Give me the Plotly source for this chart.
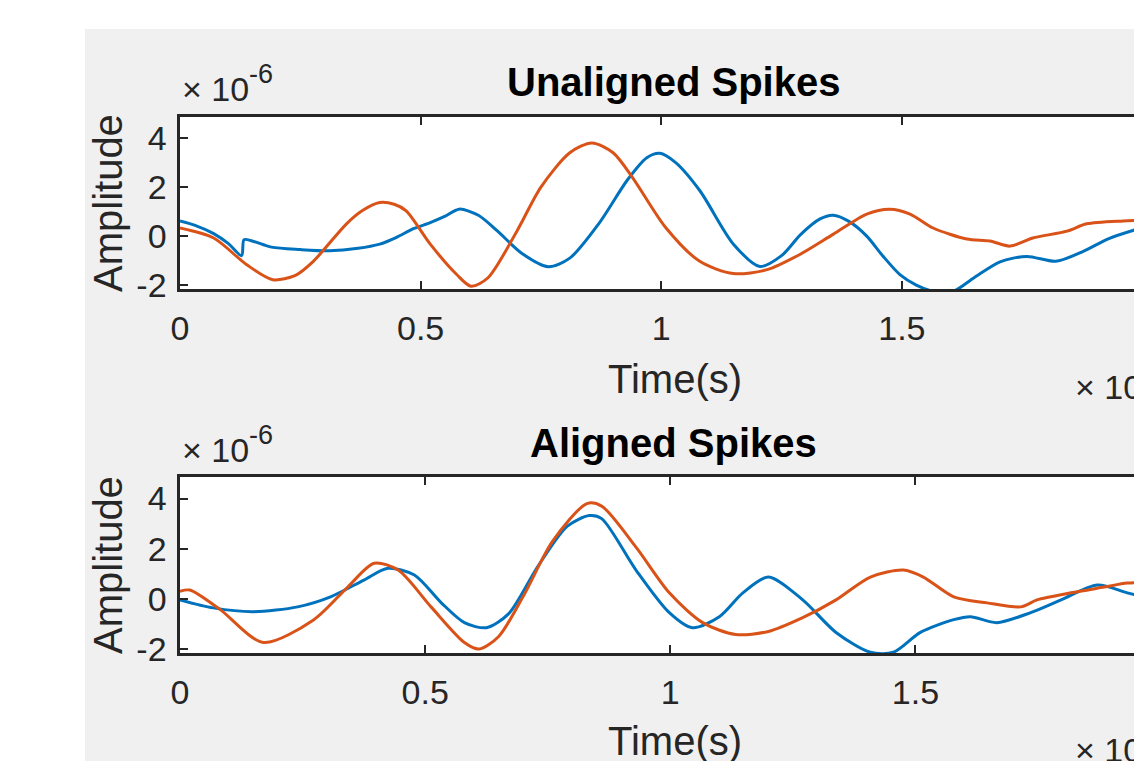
import plotly.graph_objects as go

# ---------------- data (time in units of 1e-3 s, amplitude in units of 1e-6) ----------------
t_unaligned_blue = [0, 0.03, 0.07, 0.10, 0.128, 0.133, 0.15, 0.19, 0.25, 0.31, 0.37, 0.415, 0.45,
                    0.485, 0.52, 0.55, 0.58, 0.62, 0.66, 0.71, 0.765, 0.81, 0.87, 0.93, 0.97, 0.997,
                    1.03, 1.08, 1.15, 1.205, 1.25, 1.29, 1.33, 1.357, 1.39, 1.427, 1.46, 1.496, 1.53,
                    1.565, 1.607, 1.65, 1.704, 1.76, 1.82, 1.877, 1.93, 2.0]
v_unaligned_blue = [0.62, 0.45, 0.1, -0.3, -0.8, -0.15, -0.2, -0.45, -0.55, -0.6, -0.5, -0.33, -0.05,
                    0.3, 0.55, 0.8, 1.1, 0.85, 0.2, -0.7, -1.25, -0.9, 0.5, 2.3, 3.2, 3.38,
                    3.0, 1.86, -0.33, -1.24, -0.8, 0.07, 0.7, 0.85, 0.6, 0.0, -0.8, -1.57, -2.0,
                    -2.25, -2.25, -1.7, -1.05, -0.83, -1.03, -0.62, -0.1, 0.35]

t_unaligned_orange = [0, 0.07, 0.138, 0.193, 0.24, 0.277, 0.346, 0.38, 0.415, 0.445, 0.47, 0.52, 0.575,
                      0.605, 0.64, 0.70, 0.75, 0.81, 0.856, 0.9, 0.94, 1.01, 1.08, 1.15, 1.22, 1.288,
                      1.357, 1.427, 1.475, 1.517, 1.565, 1.635, 1.683, 1.725, 1.772, 1.843, 1.884,
                      1.96, 2.0]
v_unaligned_orange = [0.33, -0.08, -1.16, -1.78, -1.6, -1.03, 0.5, 1.05, 1.37, 1.3, 1.03, -0.33, -1.57,
                      -2.05, -1.7, 0.2, 2.0, 3.4, 3.8, 3.4, 2.4, 0.33, -1.03, -1.53, -1.37, -0.75,
                      0.07, 0.9, 1.1, 0.9, 0.33, -0.12, -0.2, -0.41, -0.08, 0.2, 0.5,
                      0.62, 0.65]

t_aligned_blue = [0, 0.068, 0.15, 0.24, 0.307, 0.375, 0.424, 0.478, 0.533, 0.58, 0.625, 0.67, 0.73,
                  0.79, 0.835, 0.86, 0.93, 0.998, 1.045, 1.1, 1.148, 1.2, 1.27, 1.338, 1.408, 1.455,
                  1.51, 1.578, 1.612, 1.666, 1.735, 1.797, 1.871, 1.932, 1.98]
v_aligned_blue = [-0.04, -0.36, -0.51, -0.32, 0.08, 0.75, 1.22, 0.95, -0.16, -0.95, -1.15, -0.6, 1.3,
                  2.9, 3.32, 3.2, 1.15, -0.55, -1.15, -0.71, 0.24, 0.87, -0.04, -1.34, -2.13, -2.13,
                  -1.34, -0.83, -0.71, -0.95, -0.55, -0.04, 0.55, 0.24, 0.0]

t_aligned_orange = [0, 0.02, 0.082, 0.17, 0.273, 0.342, 0.396, 0.445, 0.512, 0.58, 0.61, 0.65, 0.70,
                    0.76, 0.83, 0.86, 0.93, 0.998, 1.066, 1.133, 1.2, 1.27, 1.338, 1.408, 1.475,
                    1.516, 1.578, 1.646, 1.715, 1.748, 1.817, 1.885, 1.932, 1.98]
v_aligned_orange = [0.3, 0.35, -0.43, -1.74, -0.83, 0.47, 1.42, 1.15, -0.32, -1.74, -2.0, -1.5, 0.1,
                    2.3, 3.8, 3.7, 2.06, 0.24, -0.95, -1.42, -1.3, -0.75, -0.04, 0.87, 1.15,
                    0.87, 0.08, -0.16, -0.32, -0.04, 0.24, 0.47, 0.63, 0.65]

x_tickvals = [0, 0.5, 1, 1.5, 2]
x_ticktext = ["0", "0.5", "1", "1.5", "2"]
y_tickvals = [-2, 0, 2, 4]
y_ticktext = ["-2", "0", "2", "4"]

titles = ["Unaligned Spikes", "Aligned Spikes"]
x_label = "Time(s)"
y_label = "Amplitude"
exp_base = "× 10"
y_exp_power = "-6"
x_exp_power = "-3"

# ---------------- styling ----------------
PAGE = 8                      # default body margin of the html page
W, H = 1142 - PAGE, 761 - PAGE
L = 180 - PAGE
BLUE = "#0072BD"
ORANGE = "#D95319"
AX = "#262626"
FONT = "Liberation Sans, Arial, Helvetica, sans-serif"
TICK_FS = 34
LABEL_FS = 40
SUP_FS = 27
Y_PAD = "<span style='font-size:14px'>\u00a0</span>"


def px_x(p):
    """screen pixel x -> paper x"""
    return (p - PAGE - L) / (W - L)


def px_y(p):
    """screen pixel y -> paper y"""
    return 1 - (p - PAGE) / H


panels = [
    dict(top=117, bottom=289, xrange=[0, 1.999], title_y=82, xlabel_y=379, yexp_y=89, xexp_y=387),
    dict(top=477, bottom=653, xrange=[0, 1.962], title_y=443, xlabel_y=741, yexp_y=450, xexp_y=750),
]

fig = go.Figure()
series = [
    (t_unaligned_blue, v_unaligned_blue, t_unaligned_orange, v_unaligned_orange),
    (t_aligned_blue, v_aligned_blue, t_aligned_orange, v_aligned_orange),
]
for i, (tb, vb, to, vo) in enumerate(series):
    xa = "x" if i == 0 else "x2"
    ya = "y" if i == 0 else "y2"
    fig.add_trace(go.Scatter(x=tb, y=vb, mode="lines",
                             line=dict(color=BLUE, width=3, shape="spline", smoothing=0.8),
                             xaxis=xa, yaxis=ya, showlegend=False))
    fig.add_trace(go.Scatter(x=to, y=vo, mode="lines",
                             line=dict(color=ORANGE, width=3, shape="spline", smoothing=0.8),
                             xaxis=xa, yaxis=ya, showlegend=False))

axis_common = dict(
    showgrid=False, zeroline=False, showline=True, linecolor=AX, linewidth=2.5,
    ticks="inside", ticklen=8, tickwidth=2, tickcolor=AX, automargin=False,
    tickfont=dict(family=FONT, size=TICK_FS, color=AX),
)

layout = dict(
    width=W, height=H,
    margin=dict(l=L, r=0, t=0, b=0, pad=0),
    paper_bgcolor="#F0F0F0",
    plot_bgcolor="white",
    font=dict(family=FONT, color=AX),
    showlegend=False,
)


def text_ann(text, x, y, size, xanchor="center", color=AX, angle=0):
    return dict(text=text, x=x, y=y, xref="paper", yref="paper", xanchor=xanchor, yanchor="middle",
                showarrow=False, textangle=angle, font=dict(size=size, family=FONT, color=color))


annotations = []
for i, p in enumerate(panels):
    sfx = "" if i == 0 else "2"
    layout["xaxis" + sfx] = dict(axis_common, domain=[0, 1], range=p["xrange"], anchor="y" + sfx,
                                 tickvals=x_tickvals, ticktext=x_ticktext, mirror="ticks",
                                 ticklabelstandoff=7)
    layout["yaxis" + sfx] = dict(axis_common, domain=[px_y(p["bottom"]), px_y(p["top"])],
                                 range=[-2.16, 4.86], anchor="x" + sfx, tickvals=y_tickvals,
                                 ticktext=[t + Y_PAD for t in y_ticktext], mirror=False)
    annotations += [
        text_ann("<b>" + titles[i] + "</b>", px_x(673), px_y(p["title_y"]), LABEL_FS, color="black"),
        text_ann(x_label, px_x(675), px_y(p["xlabel_y"]), LABEL_FS),
        text_ann(y_label, px_x(108), (px_y(p["top"]) + px_y(p["bottom"])) / 2, LABEL_FS, angle=-90),
        text_ann(exp_base, px_x(180), px_y(p["yexp_y"]), TICK_FS, xanchor="left"),
        text_ann(y_exp_power, px_x(247), px_y(p["yexp_y"] - 15), SUP_FS, xanchor="left"),
        text_ann(exp_base, px_x(1073), px_y(p["xexp_y"]), TICK_FS, xanchor="left"),
        text_ann(x_exp_power, px_x(1140), px_y(p["xexp_y"] - 15), SUP_FS, xanchor="left"),
    ]
layout["annotations"] = annotations

# white page area around the MATLAB figure window
layout["shapes"] = [
    dict(type="rect", xref="paper", yref="paper", x0=px_x(-10), x1=px_x(85), y0=-0.05, y1=1.05,
         fillcolor="white", line=dict(width=0), layer="below"),
    dict(type="rect", xref="paper", yref="paper", x0=px_x(-10), x1=1.05, y0=px_y(29), y1=1.05,
         fillcolor="white", line=dict(width=0), layer="below"),
]

fig.update_layout(**layout)
fig.write_html("out.html")
